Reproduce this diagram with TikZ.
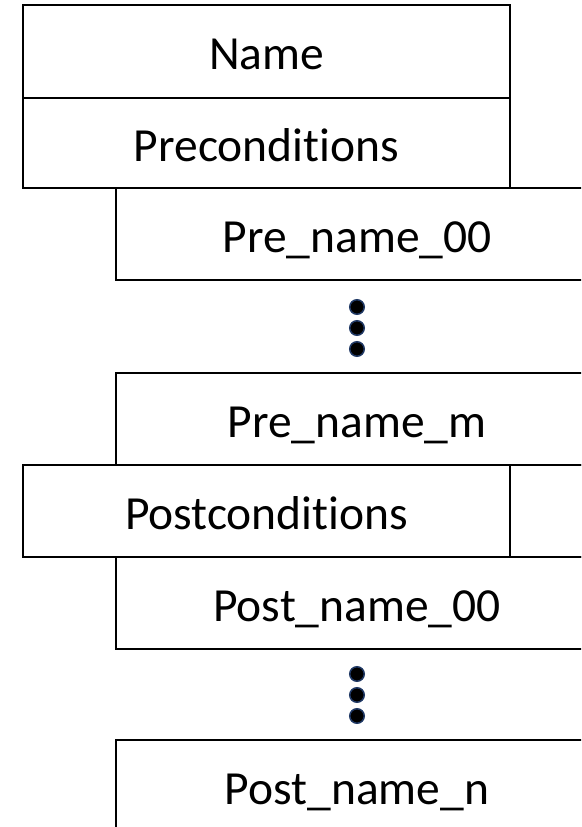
\documentclass[tikz,border=0pt]{standalone}
\usepackage{fontspec}
\setmainfont[Ligatures=NoCommon]{Carlito}
\usepackage{tikz}
\usetikzlibrary{positioning, calc}

\definecolor{dotrim}{RGB}{31,56,100}

\tikzset{
  cell/.style={draw, line width=2pt, inner sep=0pt, outer sep=0pt, minimum height=92pt, text height=36pt, text depth=0pt, font=\fontsize{47.5}{56}\selectfont},
  widecell/.style={cell, minimum width=487pt},
  subcell/.style={cell, minimum width=482pt},
  vdot/.style={draw=dotrim, circle, line width=1.5pt, fill=black, inner sep=0pt, minimum size=14.5pt}
}

\begin{document}
\begin{tikzpicture}[x=1pt, y=-1pt]

  \useasboundingbox (0,0) rectangle (581,827);
  \clip (0,0) rectangle (581,827);

  % HEADER nodes

  \node[widecell, minimum height=93pt] (name) at (266.5,51.5) {Name};
  \node[widecell, minimum height=90pt, anchor=north] (precond) at (name.south) {Preconditions};

  % PRECONDITION list

  \node[subcell, anchor=north west] (prezero) at ($(precond.south west)+(93,0)$) {Pre\_name\_00};

  \node[vdot] (predota) at ($(prezero.south)+(0,27)$) {};
  \node[vdot] (predotb) at ($(predota)+(0,21)$) {};
  \node[vdot] (predotc) at ($(predotb)+(0,21)$) {};

  \node[subcell, anchor=north] (prem) at ($(prezero.south)+(0,93)$) {Pre\_name\_m};

  % POSTCONDITION nodes

  \node[widecell, anchor=north west] (postcond) at ($(prem.south west)-(93,0)$) {Postconditions};
  \node[cell, minimum width=130pt, anchor=north west] (postrest) at (postcond.north east) {};

  \node[subcell, anchor=north west] (postzero) at ($(postcond.south west)+(93,0)$) {Post\_name\_00};

  \node[vdot] (postdota) at ($(postzero.south)+(0,25)$) {};
  \node[vdot] (postdotb) at ($(postdota)+(0,21)$) {};
  \node[vdot] (postdotc) at ($(postdotb)+(0,21)$) {};

  \node[subcell, anchor=north] (postn) at ($(postzero.south)+(0,91)$) {Post\_name\_n};

\end{tikzpicture}
\end{document}
